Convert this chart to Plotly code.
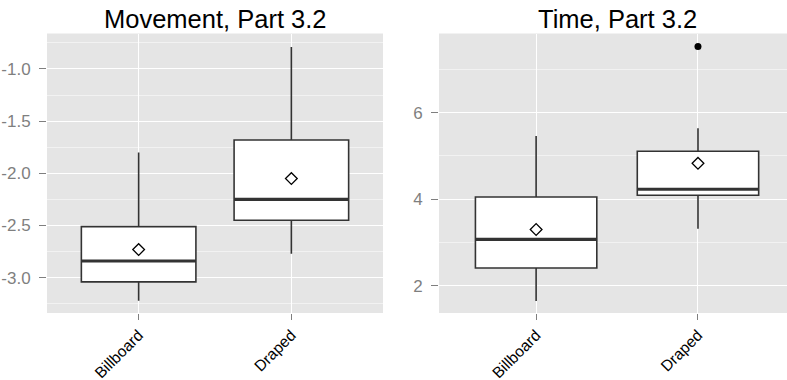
import plotly.graph_objects as go

categories = ["Billboard", "Draped"]

# Movement, Part 3.2
mov_lower = [-3.22, -2.77]
mov_q1 = [-3.04, -2.45]
mov_median = [-2.84, -2.25]
mov_q3 = [-2.51, -1.68]
mov_upper = [-1.80, -0.79]
mov_mean = [-2.73, -2.05]
mov_ticks = [-3.0, -2.5, -2.0, -1.5, -1.0]

# Time, Part 3.2
time_lower = [1.65, 3.32]
time_q1 = [2.41, 4.09]
time_median = [3.07, 4.23]
time_q3 = [4.05, 5.11]
time_upper = [5.46, 5.64]
time_mean = [3.30, 4.83]
time_outlier_cat = ["Draped"]
time_outlier_val = [7.53]
time_ticks = [2, 4, 6]

BOX_W = 0.75
EDGE = "#333333"
GRAY = "#7F7F7F"
FONT = "Liberation Sans, Arial, sans-serif"

W, H = 787, 380
fig = go.Figure()

pos = list(range(len(categories)))


def add_panel(xa, ya, lower, q1, med, q3, upper, mean, out_cat=None, out_val=None):
    fig.add_trace(go.Box(
        x=pos, q1=q1, median=med, q3=q3, lowerfence=lower, upperfence=upper,
        width=BOX_W, fillcolor="white", line=dict(color=EDGE, width=1.6),
        whiskerwidth=0, boxpoints=False, showlegend=False,
        xaxis=xa, yaxis=ya, hoverinfo="skip"))
    for i, m in zip(pos, med):
        fig.add_trace(go.Scatter(
            x=[i - BOX_W / 2, i + BOX_W / 2], y=[m, m], mode="lines",
            line=dict(color=EDGE, width=3.2), showlegend=False,
            xaxis=xa, yaxis=ya, hoverinfo="skip"))
    fig.add_trace(go.Scatter(
        x=pos, y=mean, mode="markers",
        marker=dict(symbol="diamond", size=9, color="white",
                    line=dict(color="black", width=1.3)),
        showlegend=False, xaxis=xa, yaxis=ya, hoverinfo="skip"))
    if out_cat:
        fig.add_trace(go.Scatter(
            x=[categories.index(c) for c in out_cat], y=out_val, mode="markers",
            marker=dict(symbol="circle", size=7, color="black"),
            showlegend=False, xaxis=xa, yaxis=ya, hoverinfo="skip"))


add_panel("x", "y", mov_lower, mov_q1, mov_median, mov_q3, mov_upper, mov_mean)
add_panel("x2", "y2", time_lower, time_q1, time_median, time_q3, time_upper,
          time_mean, time_outlier_cat, time_outlier_val)

top = 1 - 33.5 / H
bot = 1 - 313 / H

xcommon = dict(tickmode="array", tickvals=pos, ticktext=categories,
               tickangle=-45, ticks="outside", ticklen=6, tickcolor=GRAY,
               tickfont=dict(family=FONT, size=15.6, color="black"),
               showgrid=True, gridcolor="white", gridwidth=1.2,
               zeroline=False, showline=False, automargin=False)
ycommon = dict(ticks="outside", ticklen=7, tickcolor=GRAY,
               ticklabelstandoff=5, tickmode="array",
               tickfont=dict(family=FONT, size=17, color=GRAY),
               showgrid=True, gridcolor="white", gridwidth=1.2,
               zeroline=False, showline=False, automargin=False)

fig.update_layout(
    width=W, height=H, margin=dict(l=0, r=0, t=0, b=0, autoexpand=False),
    paper_bgcolor="white", plot_bgcolor="#E5E5E5",
    xaxis=dict(domain=[47 / W, 383 / W], range=[-0.6, 1.6], anchor="y", **xcommon),
    yaxis=dict(domain=[bot, top], range=[-3.338, -0.66], anchor="x",
               tickvals=mov_ticks, ticktext=["%.1f" % v for v in mov_ticks],
               minor=dict(dtick=0.25, tick0=0, showgrid=True,
                          gridcolor="#F2F2F2", gridwidth=0.6, ticks=""),
               **ycommon),
    xaxis2=dict(domain=[439 / W, 1.0], range=[-0.6, 1.55], anchor="y2", **xcommon),
    yaxis2=dict(domain=[bot, top], range=[1.37, 7.83], anchor="x2",
                tickvals=time_ticks, ticktext=[str(v) for v in time_ticks],
                minor=dict(dtick=1, tick0=0, showgrid=True,
                           gridcolor="#F2F2F2", gridwidth=0.6, ticks=""),
                **ycommon),
    annotations=[
        dict(text="Movement, Part 3.2", x=215 / W, y=1 - 19 / H, xref="paper",
             yref="paper", xanchor="center", yanchor="middle", showarrow=False,
             font=dict(family=FONT, size=25.5, color="black")),
        dict(text="Time, Part 3.2", x=617 / W, y=1 - 19 / H, xref="paper",
             yref="paper", xanchor="center", yanchor="middle", showarrow=False,
             font=dict(family=FONT, size=25.5, color="black")),
    ],
)

fig.write_html("out.html")
